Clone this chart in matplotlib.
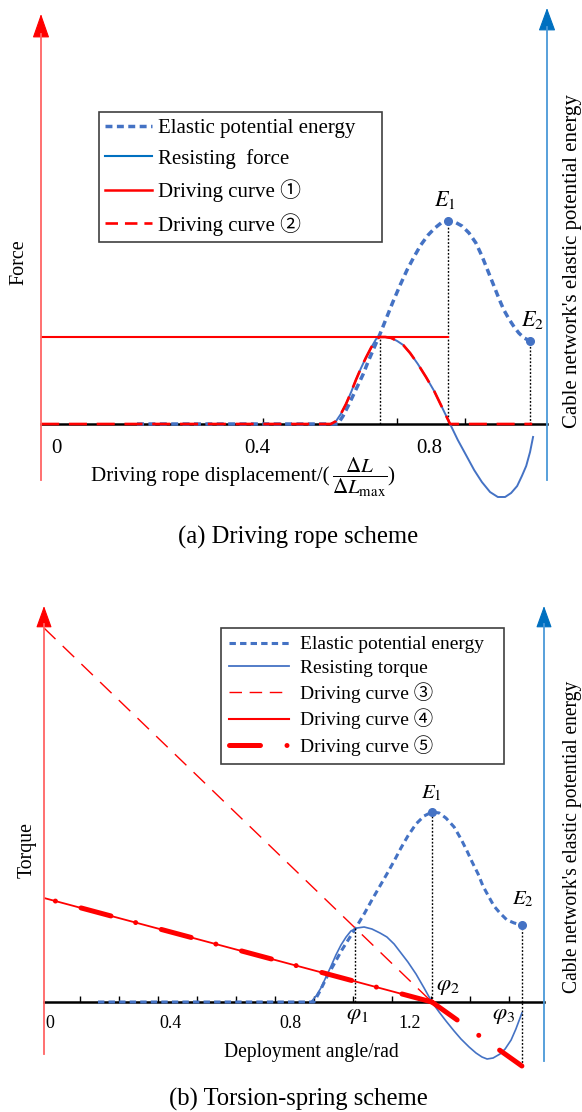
import matplotlib
matplotlib.use("Agg")
import matplotlib.pyplot as plt
import matplotlib.transforms as mtransforms
from matplotlib.lines import Line2D
from matplotlib.patches import FancyArrowPatch

OUTPUT_PLOT = "out.png"
FIG_W, FIG_H, DPI = 582, 1112, 100

RED = "#FF0000"
RED_SHAFT = "#FF6464"
BLUE = "#4472C4"
BLUE_SHAFT = "#4A98D8"
BLUE_HEAD = "#0070C0"

plt.rcParams["font.family"] = ["Liberation Serif", "Noto Sans CJK JP"]
plt.rcParams["mathtext.fontset"] = "stix"
plt.rcParams["lines.scale_dashes"] = False

# ---------------- (a) driving rope scheme, x = dL / dLmax ----------------
A_RESIST_X = [0.572, 0.584, 0.595, 0.607, 0.619, 0.630, 0.642, 0.653, 0.665, 0.677,
              0.686, 0.698, 0.712, 0.726, 0.740, 0.756, 0.774, 0.793, 0.812, 0.830,
              0.849, 0.867, 0.886, 0.905, 0.923, 0.942, 0.960, 0.977, 0.991, 1.005,
              1.016, 1.026, 1.035, 1.042]
A_RESIST_F = [0.0, 0.034, 0.115, 0.230, 0.368, 0.506, 0.644, 0.759, 0.874, 0.977,
              1.0, 1.0, 0.989, 0.954, 0.908, 0.816, 0.690, 0.540, 0.379, 0.195,
              0.0, -0.184, -0.356, -0.529, -0.667, -0.782, -0.839, -0.839, -0.793, -0.713,
              -0.598, -0.483, -0.322, -0.149]
A_ENERGY_X = [0.121, 0.588, 0.600, 0.612, 0.623, 0.635, 0.647, 0.658, 0.672, 0.686,
              0.700, 0.716, 0.733, 0.749, 0.765, 0.781, 0.798, 0.814, 0.828, 0.844,
              0.860, 0.877, 0.893, 0.909, 0.923, 0.937, 0.951, 0.963, 0.974, 0.986,
              0.998, 1.009, 1.021, 1.035]
A_ENERGY_E = [0.0, 0.0, 0.039, 0.089, 0.138, 0.192, 0.246, 0.305, 0.374, 0.443,
              0.517, 0.601, 0.685, 0.759, 0.823, 0.882, 0.931, 0.966, 0.990, 1.0,
              0.995, 0.975, 0.941, 0.892, 0.828, 0.754, 0.680, 0.616, 0.562, 0.517,
              0.478, 0.448, 0.424, 0.409]
A_DRIVE1_X = [-0.102, 0.844]      # constant force up to E1
A_DRIVE1_F = [1.0, 1.0]
A_DRIVE2_END = 1.04
A_TICK_POS = [-0.067, 0.4, 0.8]
A_TICK_LABELS = ["0", "0.4", "0.8"]
A_MINOR = [0.414, 0.726, 0.884]

# ---------------- (b) torsion-spring scheme, x = angle in rad ----------------
B_RESIST_X = [0.870, 0.887, 0.903, 0.920, 0.937, 0.953, 0.970, 0.987, 1.003, 1.023,
              1.047, 1.073, 1.100, 1.123, 1.147, 1.170, 1.193, 1.220, 1.247, 1.273,
              1.297, 1.320, 1.347, 1.370, 1.397, 1.420, 1.440, 1.457, 1.477, 1.500,
              1.517, 1.537, 1.553, 1.573]
B_RESIST_T = [0.0, 0.06, 0.14, 0.25, 0.36, 0.47, 0.57, 0.65, 0.71, 0.74,
              0.75, 0.73, 0.69, 0.65, 0.58, 0.49, 0.40, 0.28, 0.14, 0.0,
              -0.10, -0.19, -0.29, -0.37, -0.45, -0.51, -0.55, -0.57, -0.56, -0.52,
              -0.47, -0.38, -0.27, -0.11]
B_ENERGY_X = [0.160, 0.880, 0.900, 0.923, 0.947, 0.973, 1.000, 1.023, 1.047, 1.073,
              1.100, 1.123, 1.147, 1.170, 1.193, 1.220, 1.247, 1.273, 1.297, 1.320,
              1.347, 1.370, 1.390, 1.407, 1.427, 1.443, 1.463, 1.480, 1.500, 1.523,
              1.547, 1.573]
B_ENERGY_E = [0.0, 0.0, 0.058, 0.132, 0.200, 0.274, 0.342, 0.400, 0.463, 0.537,
              0.611, 0.674, 0.742, 0.811, 0.874, 0.937, 0.979, 1.0, 0.995, 0.968,
              0.921, 0.858, 0.795, 0.737, 0.674, 0.611, 0.553, 0.505, 0.468, 0.432,
              0.416, 0.405]
B_DRIVE3_X = [-0.02, 1.273]
B_DRIVE3_T = [3.74, 0.0]
B_DRIVE4_X = [-0.02, 1.273]
B_DRIVE4_T = [1.04, 0.0]
B_DRIVE5_TAIL_X = [1.273, 1.573]
B_DRIVE5_TAIL_T = [0.0, -0.64]
B_PHI = [1.017, 1.273, 1.513]
B_PHI1_T = 0.74
B_TICK_POS = [0.0, 0.4, 0.8, 1.2]
B_TICK_LABELS = ["0", "0.4", "0.8", "1.2"]
B_MINOR = [0.10, 0.23, 0.36, 0.49, 0.62, 0.75, 0.88, 1.01, 1.14, 1.27, 1.40, 1.53]

# pixel layout of each panel: x0/sx map data x, y0/sy force, sye energy
PANEL_A = dict(x0=85, sx=430, y0=424, sy=87, sye=203, left=41, right=547, top=8, bottom=505)
PANEL_B = dict(x0=50, sx=300, y0=1002, sy=100, sye=190, left=44, right=544, top=600, bottom=1075)

DOTTED = dict(color="black", lw=1.0, dashes=(1.3, 1.3), zorder=3)
CURVE5_DASH = (22.3, 19.1, 0.01, 18.4)


def fx(px):
    return px / FIG_W


def fy(py):
    return 1 - py / FIG_H


def make_axes(fig, p):
    ax = fig.add_axes([fx(p["left"]), fy(p["bottom"]),
                       (p["right"] - p["left"]) / FIG_W, (p["bottom"] - p["top"]) / FIG_H])
    ax.set_xlim((p["left"] - p["x0"]) / p["sx"], (p["right"] - p["x0"]) / p["sx"])
    ax.set_ylim((p["y0"] - p["bottom"]) / p["sy"], (p["y0"] - p["top"]) / p["sy"])
    ax.patch.set_visible(False)
    for side in ["top", "left", "right"]:
        ax.spines[side].set_visible(False)
    ax.spines["bottom"].set_position(("data", 0))
    ax.spines["bottom"].set_linewidth(1.8)
    ax.set_yticks([])
    # energy is drawn on its own vertical scale sharing the zero line
    etrans = mtransforms.Affine2D().scale(1.0, p["sye"] / p["sy"]) + ax.transData
    return ax, etrans


def set_ticks(ax, pos, labels, minor, size, pad):
    ax.set_xticks(pos, labels)
    ax.set_xticks(minor, minor=True)
    ax.tick_params(axis="x", which="major", length=0, pad=pad, labelsize=size)
    ax.tick_params(axis="x", which="minor", direction="in", length=4, width=1.0)


def axis_arrow(fig, x, y_bottom, y_base, y_tip, shaft, head, half_w):
    fig.add_artist(Line2D([fx(x), fx(x)], [fy(y_bottom), fy(y_base)],
                          transform=fig.transFigure, color=shaft, lw=1.3))
    length = y_base - y_tip
    ratio = half_w / length
    scale = length * (1 + ratio ** 2) ** 0.5 * 72 / DPI
    fig.add_artist(FancyArrowPatch((fx(x), fy(y_base + 1)), (fx(x), fy(y_tip)),
                                   transform=fig.transFigure, shrinkA=0, shrinkB=0,
                                   arrowstyle=f"-|>,head_length=1.0,head_width={ratio:.3f}",
                                   mutation_scale=scale, color=head, lw=0.8))


def draw_panel_a(fig):
    ax, etrans = make_axes(fig, PANEL_A)
    set_ticks(ax, A_TICK_POS, A_TICK_LABELS, A_MINOR, 15, 10.5)

    k = A_RESIST_F.index(0.0, 1) + 1
    drive2_x = [A_DRIVE1_X[0]] + A_RESIST_X[:k] + [A_DRIVE2_END]
    drive2_f = [0.0] + A_RESIST_F[:k] + [0.0]

    ax.plot(A_ENERGY_X, A_ENERGY_E, transform=etrans, color=BLUE, lw=2.5,
            dashes=(5, 3.2), zorder=3)
    ax.plot(A_RESIST_X, A_RESIST_F, color=BLUE, lw=1.4, zorder=3)
    ax.plot(A_DRIVE1_X, A_DRIVE1_F, color=RED, lw=1.5, zorder=4)
    ax.plot(drive2_x, drive2_f, color=RED, lw=1.9, dashes=(13, 7), zorder=4)

    i_peak = A_RESIST_F.index(max(A_RESIST_F))
    ax.plot([A_RESIST_X[i_peak]] * 2, [0, A_RESIST_F[i_peak]], **DOTTED)
    i_e1 = A_ENERGY_E.index(max(A_ENERGY_E))
    e1 = (A_ENERGY_X[i_e1], A_ENERGY_E[i_e1])
    e2 = (A_ENERGY_X[-1], A_ENERGY_E[-1])
    for (x, e), name, off in [(e1, "$E_1$", (-2, 15)), (e2, "$E_2$", (1.5, 15))]:
        ax.plot([x, x], [0, e], transform=etrans, **DOTTED)
        ax.plot([x], [e], "o", transform=etrans, color=BLUE, ms=5.5, zorder=5)
        ax.annotate(name, xy=(x, e), xycoords=etrans, xytext=off,
                    textcoords="offset points", ha="center", va="center", size=16)

    handles = [
        Line2D([], [], color=BLUE, lw=2.5, dashes=(5, 3.2)),
        Line2D([], [], color=BLUE_HEAD, lw=1.5),
        Line2D([], [], color=RED, lw=1.8),
        Line2D([], [], color=RED, lw=1.9, dashes=(9, 5)),
    ]
    labels = ["Elastic potential energy", "Resisting  force",
              "Driving curve \u2460", "Driving curve \u2461"]
    leg = fig.legend(handles, labels, loc="upper left",
                     bbox_to_anchor=(fx(98.5), fy(240), 283.5 / FIG_W, 128 / FIG_H),
                     bbox_transform=fig.transFigure, mode="expand", fancybox=False,
                     edgecolor="#404040", framealpha=1, borderaxespad=0, borderpad=0.3,
                     handlelength=2.26, handletextpad=0.3, labelspacing=0.52,
                     prop={"size": 15})
    leg.get_frame().set_linewidth(1.2)

    axis_arrow(fig, 41, 480, 34, 14, RED_SHAFT, RED, 7)
    axis_arrow(fig, 547, 480, 27, 8, BLUE_SHAFT, BLUE_HEAD, 7)
    fig.text(fx(19), fy(262), "Force", rotation=90, ha="center", va="center", size=14.5)
    fig.text(fx(572), fy(261), "Cable network's elastic potential energy", rotation=90,
             ha="center", va="center", size=15)
    # axis title with the normalised displacement written as a fraction
    fig.text(fx(91), fy(481), "Driving rope displacement/(", ha="left", va="baseline", size=15.2)
    fig.text(fx(360), fy(477), r"$\dfrac{\Delta L}{\Delta L_{\rm max}}$",
             ha="center", va="center", size=15.2)
    fig.text(fx(387), fy(481), ")", ha="left", va="baseline", size=15.2)
    fig.text(fx(298), fy(537), "(a) Driving rope scheme", ha="center", va="center", size=17.7)


def draw_panel_b(fig):
    ax, etrans = make_axes(fig, PANEL_B)
    set_ticks(ax, B_TICK_POS, B_TICK_LABELS, B_MINOR, 13, 9.5)

    ax.plot(B_ENERGY_X, B_ENERGY_E, transform=etrans, color=BLUE, lw=2.2,
            dashes=(4.6, 3.0), zorder=3)
    ax.plot(B_RESIST_X, B_RESIST_T, color=BLUE, lw=1.2, zorder=3)
    ax.plot(B_DRIVE3_X, B_DRIVE3_T, color=RED, lw=1.0, dashes=(11.5, 7.2), zorder=4)
    ax.plot(B_DRIVE4_X, B_DRIVE4_T, color=RED, lw=1.3, zorder=4)
    # curve 5 runs outward from phi2 in both directions
    ax.plot(B_DRIVE4_X[::-1], B_DRIVE4_T[::-1], color=RED, lw=3.6,
            dashes=CURVE5_DASH, dash_capstyle="round", zorder=5)
    ax.plot(B_DRIVE5_TAIL_X, B_DRIVE5_TAIL_T, color=RED, lw=3.6,
            dashes=CURVE5_DASH, dash_capstyle="round", zorder=5)

    ax.plot([B_PHI[0]] * 2, [0, B_PHI1_T], **DOTTED)
    i_e1 = B_ENERGY_E.index(max(B_ENERGY_E))
    e1 = (B_ENERGY_X[i_e1], B_ENERGY_E[i_e1])
    e2 = (B_ENERGY_X[-1], B_ENERGY_E[-1])
    ax.plot([e2[0]] * 2, [B_DRIVE5_TAIL_T[-1], 0], **DOTTED)
    for (x, e), name, off in [(e1, "$E_1$", (-0.7, 13)), (e2, "$E_2$", (0.7, 18.5))]:
        ax.plot([x, x], [0, e], transform=etrans, **DOTTED)
        ax.plot([x], [e], "o", transform=etrans, color=BLUE, ms=5.5, zorder=5)
        ax.annotate(name, xy=(x, e), xycoords=etrans, xytext=off,
                    textcoords="offset points", ha="center", va="center", size=15)

    for i, (x, off) in enumerate(zip(B_PHI, [(1.5, -9.5), (11.5, 11), (0, -9.5)])):
        ax.annotate(rf"$\varphi_{i + 1}$", xy=(x, 0), xytext=off, textcoords="offset points",
                    ha="center", va="center", size=16.5)

    handles = [
        Line2D([], [], color=BLUE, lw=2.2, dashes=(4.6, 3.0)),
        Line2D([], [], color=BLUE, lw=1.3),
        Line2D([], [], color=RED, lw=1.0, dashes=(9, 5.5)),
        Line2D([], [], color=RED, lw=1.5),
        Line2D([], [], color=RED, lw=3.6, dashes=CURVE5_DASH, dash_capstyle="round"),
    ]
    labels = ["Elastic potential energy", "Resisting torque", "Driving curve \u2462",
              "Driving curve \u2463", "Driving curve \u2464"]
    leg = fig.legend(handles, labels, loc="upper left",
                     bbox_to_anchor=(fx(221), fy(761), 283 / FIG_W, 133 / FIG_H),
                     bbox_transform=fig.transFigure, mode="expand", fancybox=False,
                     edgecolor="#404040", framealpha=1, borderaxespad=0, borderpad=0.4,
                     handlelength=3.1, handletextpad=0.57, labelspacing=0.29,
                     prop={"size": 14})
    leg.get_frame().set_linewidth(1.2)

    axis_arrow(fig, 44, 1054, 624, 606, RED_SHAFT, RED, 6.5)
    axis_arrow(fig, 544, 1061, 624, 606, BLUE_SHAFT, BLUE_HEAD, 6.5)
    fig.text(fx(27), fy(850), "Torque", rotation=90, ha="center", va="center", size=14.2)
    fig.text(fx(572), fy(837), "Cable network's elastic potential energy", rotation=90,
             ha="center", va="center", size=14.1)
    fig.text(fx(311), fy(1052), "Deployment angle/rad", ha="center", va="center", size=14.1)
    fig.text(fx(298), fy(1099), "(b) Torsion-spring scheme", ha="center", va="center", size=17.7)


def main():
    fig = plt.figure(figsize=(FIG_W / DPI, FIG_H / DPI), dpi=DPI)
    draw_panel_a(fig)
    draw_panel_b(fig)
    fig.savefig(OUTPUT_PLOT, dpi=DPI)


if __name__ == "__main__":
    main()
